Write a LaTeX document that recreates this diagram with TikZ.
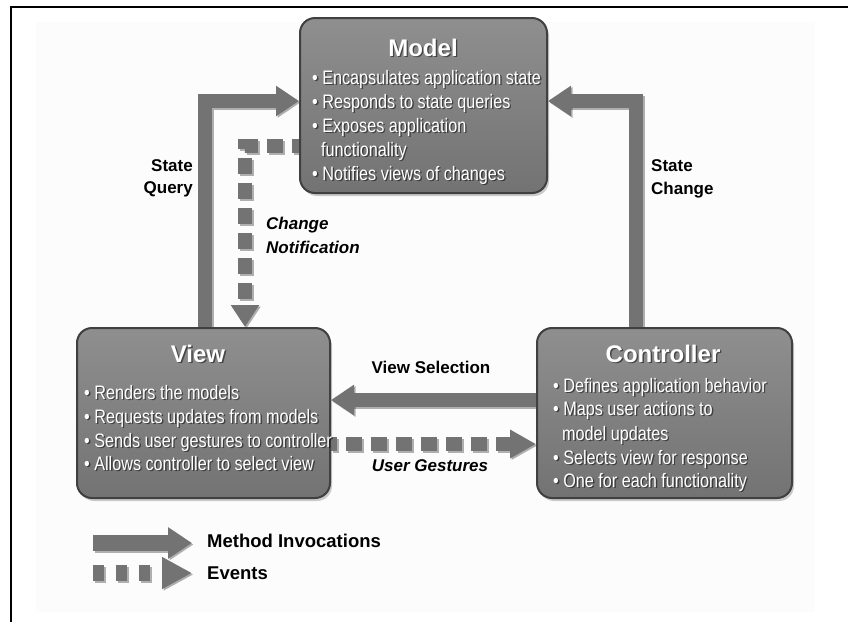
\documentclass[tikz,border=0pt]{standalone}
\usepackage{fontspec}
\setmainfont{Liberation Sans}
\newfontfamily\narrowsans[FakeStretch=0.83]{Liberation Sans}
\usetikzlibrary{arrows.meta,shadows,backgrounds}

\definecolor{arrowgray}{gray}{0.45}
\definecolor{boxtop}{gray}{0.56}
\definecolor{boxbottom}{gray}{0.45}
\definecolor{boxedge}{gray}{0.25}
\definecolor{pagebg}{gray}{0.99}

% white text with a soft dark shadow: style, name, position, anchor, text
\newcommand\shadedlabel[5]{%
  \node[#1, anchor=#4, text=black, opacity=.5] at ([shift={(1.4pt,-1.4pt)}]#3) {#5};
  \node[#1, anchor=#4, text=white] (#2) at (#3) {#5};}

\begin{document}
\begin{tikzpicture}[x=1pt,y=-1pt,
  mvcbox/.style={rectangle, rounded corners=15pt, draw=boxedge, line width=2pt,
    top color=boxtop, bottom color=boxbottom, inner sep=0pt,
    drop shadow={shadow xshift=2pt, shadow yshift=-3pt, opacity=.4}},
  titletext/.style={inner sep=0pt, font=\bfseries\fontsize{24}{28}\selectfont},
  bullettext/.style={inner sep=0pt, font=\narrowsans\fontsize{19.5}{22}\selectfont},
  flowlabel/.style={inner sep=0pt, text=black, font=\bfseries\fontsize{17}{22}\selectfont},
  eventlabel/.style={flowlabel, font=\bfseries\itshape\fontsize{17}{22}\selectfont},
  legendlabel/.style={inner sep=0pt, text=black, font=\bfseries\fontsize{18.5}{22}\selectfont},
  % solid block arrow: shaft width / tip length / tip width
  blockarrow/.style args={#1/#2/#3}{draw=arrowgray, line width=#1, line join=miter,
    -{Triangle[length=#2,width=#3]},
    preaction={draw=black, opacity=.3, line width=#1, line join=miter,
      -{Triangle[length=#2,width=#3]},
      transform canvas={shift={(1.5pt,-1.5pt)}}}},
  % dashed block arrow: shaft width / tip length / tip width / dash / gap / phase
  eventarrow/.style args={#1/#2/#3/#4/#5/#6}{draw=arrowgray, line width=#1, line join=miter,
    dash pattern=on #4 off #5, dash phase=#6,
    -{Triangle[length=#2,width=#3]},
    preaction={draw=black, opacity=.3, line width=#1, line join=miter,
      dash pattern=on #4 off #5, dash phase=#6,
      -{Triangle[length=#2,width=#3]},
      transform canvas={shift={(1.5pt,-1.5pt)}}}}]

\useasboundingbox (0,0) rectangle (848,622);

% the three components
\node[mvcbox, minimum width=247pt, minimum height=175pt] (model) at (423.5,105.5) {};
\node[mvcbox, minimum width=253pt, minimum height=170pt] (view) at (203.5,413) {};
\node[mvcbox, minimum width=255pt, minimum height=170pt] (controller) at (664.5,413) {};

% Model
\shadedlabel{titletext}{modeltitle}{423,56}{base}{Model}
\shadedlabel{bullettext}{m1}{312,84}{base west}{• Encapsulates application state}
\shadedlabel{bullettext}{m2}{312,108}{base west}{• Responds to state queries}
\shadedlabel{bullettext}{m3}{312,132}{base west}{• Exposes application}
\shadedlabel{bullettext}{m4}{321,156}{base west}{functionality}
\shadedlabel{bullettext}{m5}{312,180}{base west}{• Notifies views of changes}

% View
\shadedlabel{titletext}{viewtitle}{198,362}{base}{View}
\shadedlabel{bullettext}{v1}{84,399}{base west}{• Renders the models}
\shadedlabel{bullettext}{v2}{84,423}{base west}{• Requests updates from models}
\shadedlabel{bullettext}{v3}{84,447}{base west}{• Sends user gestures to controller}
\shadedlabel{bullettext}{v4}{84,470}{base west}{• Allows controller to select view}

% Controller
\shadedlabel{titletext}{ctrltitle}{663,362}{base}{Controller}
\shadedlabel{bullettext}{c1}{553,392}{base west}{• Defines application behavior}
\shadedlabel{bullettext}{c2}{553,415}{base west}{• Maps user actions to}
\shadedlabel{bullettext}{c3}{562,440}{base west}{model updates}
\shadedlabel{bullettext}{c4}{553,464}{base west}{• Selects view for response}
\shadedlabel{bullettext}{c5}{553,487}{base west}{• One for each functionality}

% routing points of the connectors
\coordinate (sq) at (205,101);
\coordinate (sc) at (636,101);
\coordinate (cn) at (245,146);
\coordinate (vs) at (0,400);
\coordinate (ug) at (0,444);
\coordinate (legA) at (93,543);
\coordinate (legB) at (192,543);
\coordinate (legC) at (93,573);
\coordinate (legD) at (192,573);

\begin{pgfonlayer}{background}
  \fill[pagebg] (36,22) rectangle (815,612);
  % method invocations
  \draw[blockarrow=14pt/23pt/29pt] (view.north -| sq) |- (model.west |- sq);
  \draw[blockarrow=14pt/23pt/29pt] (controller.north -| sc) |- (model.east |- sc);
  \draw[blockarrow=14pt/23pt/29pt] (controller.west |- vs) -- (view.east |- vs);
  % events
  \draw[eventarrow=14pt/22pt/27pt/16pt/9pt/9pt] (model.west |- cn) -| (view.north -| cn);
  \draw[eventarrow=14pt/26pt/27pt/16pt/9pt/10pt] (view.east |- ug) -- (controller.west |- ug);
  % legend
  \draw[blockarrow=16pt/24pt/30pt] (legA) -- (legB);
  \draw[eventarrow=16pt/30pt/30pt/11pt/12pt/0pt] (legC) -- (legD);
\end{pgfonlayer}

% connector labels
\node[flowlabel, anchor=base east] (sqa) at (193,171) {State};
\node[flowlabel, anchor=base east] (sqb) at (193,193) {Query};
\node[flowlabel, anchor=base west] (sca) at (651,171) {State};
\node[flowlabel, anchor=base west] (scb) at (651,194) {Change};
\node[eventlabel, anchor=base west] (cna) at (266,229) {Change};
\node[eventlabel, anchor=base west] (cnb) at (266,253) {Notification};
\node[flowlabel, anchor=base] (vsl) at (431,373) {View Selection};
\node[eventlabel, anchor=base] (ugl) at (430,471) {User Gestures};

% legend
\node[legendlabel, anchor=base west] (legm) at (207,547) {Method Invocations};
\node[legendlabel, anchor=base west] (lege) at (207,579) {Events};

% frame
\draw[line width=2pt] (11,622) -- (11,7) -- (848,7);
\end{tikzpicture}
\end{document}
